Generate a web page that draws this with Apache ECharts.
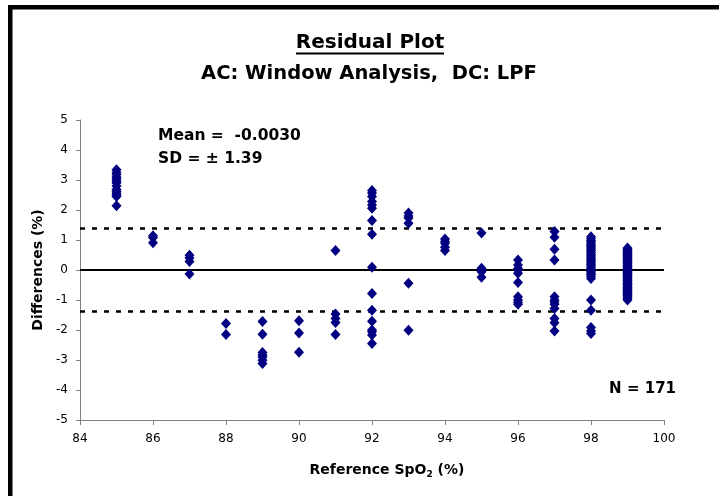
<!DOCTYPE html>
<html>
<head>
<meta charset="utf-8">
<script src="https://cdn.jsdelivr.net/npm/echarts@6/dist/echarts.min.js"></script>
<style>
html,body{margin:0;padding:0;background:#fff;}
#chart{width:719px;height:496px;}
</style>
</head>
<body>
<div id="chart"></div>
<script>
// Reference SpO2 values (x) and the differences observed at each one (y)
const refValues = [85, 86, 87, 88, 89, 90, 91, 92, 93, 94, 95, 96, 97, 98, 99];
const d85 = [3.34, 3.25, 3.18, 3.10, 3.04, 2.97, 2.90, 2.80, 2.68, 2.62, 2.56, 2.50, 2.45, 2.14];
const d86 = [1.14, 1.08, 0.91];
const d87 = [0.49, 0.40, 0.28, -0.13];
const d88 = [-1.78, -2.15];
const d89 = [-1.72, -2.14, -2.75, -2.83, -2.90, -3.01, -3.12];
const d90 = [-1.69, -2.10, -2.74];
const d91 = [0.65, -1.47, -1.62, -1.75, -2.15];
const d92 = [2.65, 2.57, 2.45, 2.28, 2.17, 2.06, 1.65, 1.19, 0.09, -0.78, -1.34, -1.71, -2.00, -2.06, -2.17, -2.45];
const d93 = [1.90, 1.80, 1.73, 1.56, -0.44, -2.01];
const d94 = [1.03, 0.95, 0.89, 0.76, 0.65];
const d95 = [1.23, 0.06, 0.00, -0.06, -0.24];
const d96 = [0.33, 0.17, 0.05, 0.00, -0.11, -0.42, -0.89, -1.00, -1.08, -1.14];
const d97 = [1.28, 1.09, 0.69, 0.33, -0.89, -1.00, -1.07, -1.14, -1.28, -1.62, -1.76, -2.03];
const d98 = [1.11, 1.05, 0.98, 0.93, 0.87, 0.82, 0.76, 0.70, 0.65, 0.58, 0.52, 0.47, 0.41, 0.35, 0.30,
             0.24, 0.18, 0.13, 0.07, 0.02, -0.04, -0.10, -0.15, -0.21, -0.28, -1.00, -1.34, -1.92, -2.03, -2.12];
const d99 = [0.73, 0.69, 0.65, 0.62, 0.58, 0.55, 0.51, 0.48, 0.44, 0.40, 0.37, 0.34, 0.30, 0.27, 0.23,
             0.20, 0.16, 0.13, 0.09, 0.06, 0.02, -0.01, -0.05, -0.08, -0.12, -0.15, -0.19, -0.22, -0.26, -0.29,
             -0.33, -0.36, -0.40, -0.43, -0.47, -0.50, -0.54, -0.58, -0.61, -0.65, -0.68, -0.72, -0.75, -0.79, -0.83,
             -0.86, -0.90, -0.94, -1.00];
const diffGroups = [d85, d86, d87, d88, d89, d90, d91, d92, d93, d94, d95, d96, d97, d98, d99];

const meanDiff = -0.0030;
const sdDiff = 1.39;
const nPoints = 171;

const xTicks = { min: 84, max: 100, interval: 2 };
const yTicks = { min: -5, max: 5, interval: 1 };

const titleText = 'Residual Plot';
const subtitleText = 'AC: Window Analysis,  DC: LPF';
const panelLabel = '(b)';

const points = [];
refValues.forEach((x, i) => diffGroups[i].forEach(y => points.push([x, y])));

const FONT = 'DejaVu Sans';
const chart = echarts.init(document.getElementById('chart'), null, { renderer: 'canvas' });

chart.setOption({
  animation: false,
  backgroundColor: '#ffffff',
  grid: { left: 80, right: 55, top: 120, bottom: 76, containLabel: false },
  xAxis: {
    type: 'value',
    min: xTicks.min, max: xTicks.max, interval: xTicks.interval,
    name: 'Reference SpO{sub|2} (%)',
    nameLocation: 'middle',
    nameGap: 42,
    nameTextStyle: {
      fontFamily: FONT, fontWeight: 'bold', fontSize: 14, color: '#000',
      padding: [0, 0, 0, 30],
      rich: { sub: { fontFamily: FONT, fontWeight: 'bold', fontSize: 9, color: '#000', padding: [8, 0, 0, 0] } }
    },
    axisLine: { show: true, onZero: false, lineStyle: { color: '#808080', width: 1 } },
    axisTick: { show: true, inside: false, length: 5, lineStyle: { color: '#808080' } },
    axisLabel: { fontFamily: FONT, fontSize: 12, color: '#000', margin: 13 },
    splitLine: { show: false }
  },
  yAxis: {
    type: 'value',
    min: yTicks.min, max: yTicks.max, interval: yTicks.interval,
    name: 'Differences (%)',
    nameLocation: 'middle',
    nameGap: 35,
    nameTextStyle: { fontFamily: FONT, fontWeight: 'bold', fontSize: 14, color: '#000' },
    axisLine: { show: true, onZero: false, lineStyle: { color: '#808080', width: 1 } },
    axisTick: { show: true, inside: false, length: 4, lineStyle: { color: '#808080' } },
    axisLabel: { fontFamily: FONT, fontSize: 12, color: '#000', margin: 12 },
    splitLine: { show: false }
  },
  series: [{
    type: 'scatter',
    data: points,
    symbol: 'diamond',
    symbolSize: [10, 11],
    itemStyle: { color: '#000080', opacity: 1 },
    silent: true,
    z: 3,
    markLine: {
      silent: true,
      symbol: ['none', 'none'],
      label: { show: false },
      z: 2,
      data: [
        { yAxis: 0, lineStyle: { color: '#000', width: 2, type: 'solid' } },
        { yAxis: sdDiff, lineStyle: { color: '#000', width: 2.5, type: [5, 7] } },
        { yAxis: -sdDiff, lineStyle: { color: '#000', width: 2.5, type: [5, 7] } }
      ]
    }
  }],
  graphic: [
    // figure frame (top and left edges)
    { type: 'rect', shape: { x: 8, y: 5, width: 711, height: 4.5 }, style: { fill: '#000' }, silent: true },
    { type: 'rect', shape: { x: 8, y: 5, width: 4.5, height: 491 }, style: { fill: '#000' }, silent: true },
    { type: 'text', x: 370, y: 42.5,
      style: { text: titleText, fontFamily: FONT, fontWeight: 'bold', fontSize: 20, fill: '#000',
               textAlign: 'center', textVerticalAlign: 'middle' } },
    { type: 'rect', shape: { x: 296, y: 52.5, width: 148, height: 2 }, style: { fill: '#000' }, silent: true },
    { type: 'text', x: 369, y: 73.8,
      style: { text: subtitleText, fontFamily: FONT, fontWeight: 'bold', fontSize: 19.5, fill: '#000',
               textAlign: 'center', textVerticalAlign: 'middle' } },
    { type: 'text', x: 674.5, y: 41.5, scaleX: 0.78, originX: 674.5, originY: 41.5,
      style: { text: panelLabel, fontFamily: 'Liberation Sans', fontSize: 26, fill: '#000',
               textAlign: 'center', textVerticalAlign: 'middle' } },
    { type: 'text', x: 158, y: 135.8,
      style: { text: 'Mean =  ' + meanDiff.toFixed(4), fontFamily: FONT, fontWeight: 'bold', fontSize: 15.5, fill: '#000',
               textAlign: 'left', textVerticalAlign: 'middle' } },
    { type: 'text', x: 158, y: 159.2,
      style: { text: 'SD = \u00B1 ' + sdDiff.toFixed(2), fontFamily: FONT, fontWeight: 'bold', fontSize: 15.5, fill: '#000',
               textAlign: 'left', textVerticalAlign: 'middle' } },
    { type: 'text', x: 676, y: 389.5,
      style: { text: 'N = ' + nPoints, fontFamily: FONT, fontWeight: 'bold', fontSize: 15, fill: '#000',
               textAlign: 'right', textVerticalAlign: 'middle' } }
  ]
});
</script>
</body>
</html>
